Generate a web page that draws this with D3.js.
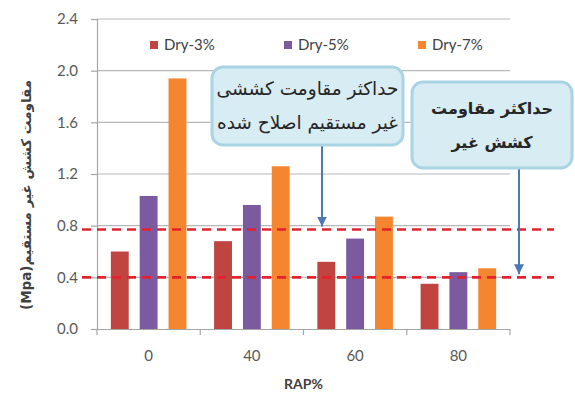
<!DOCTYPE html>
<html>
<head>
<meta charset="utf-8">
<script src="https://cdn.jsdelivr.net/npm/d3@7"></script>
<style>
  html, body { margin: 0; padding: 0; background: #fff; }
  svg { display: block; }
</style>
</head>
<body>
<svg id="chart" width="575" height="397"></svg>
<script>
// RAP content on the x axis, one bar per dry-mix series
const categories = ["0", "40", "60", "80"];
const seriesNames = ["Dry-3%", "Dry-5%", "Dry-7%"];
const dry3 = [0.60, 0.68, 0.52, 0.35];
const dry5 = [1.03, 0.96, 0.70, 0.44];
const dry7 = [1.94, 1.26, 0.87, 0.47];
const yTicks = [0, 0.4, 0.8, 1.2, 1.6, 2.0, 2.4];
// dashed reference levels: modified and plain maximum indirect tensile strength
const refLevels = [0.77, 0.40];
const calloutLines1 = ["حداکثر مقاومت کششی", "غیر مستقیم اصلاح شده"];
const calloutLines2 = ["حداکثر مقاومت", "کشش غیر"];
const xTitle = "RAP%";
const yTitle = "مقاومت کشش غیر مستقیم(Mpa)";

const seriesValues = [dry3, dry5, dry7];
const colors = ["#c0443f", "#7b5a9f", "#f5862f"];

const svg = d3.select("#chart");
const plotLeft = 97, plotRight = 510, plotTop = 19, plotBottom = 329;

const x = d3.scaleBand().domain(categories).range([plotLeft, plotRight]).padding(0);
const xs = d3.scaleBand().domain(seriesNames).range([0, x.bandwidth()])
  .paddingInner(0.38).paddingOuter(0.48);
const y = d3.scaleLinear().domain([0, 2.4]).range([plotBottom, plotTop]);

// horizontal gridlines
svg.append("g").selectAll("line").data(yTicks.filter(d => d > 0)).join("line")
  .attr("x1", plotLeft).attr("x2", plotRight)
  .attr("y1", d => y(d)).attr("y2", d => y(d))
  .attr("stroke", "#b8b8b8").attr("stroke-width", 1.2);

// y axis
const yAxis = svg.append("g").attr("transform", `translate(${plotLeft},0)`)
  .call(d3.axisLeft(y).tickValues(yTicks).tickFormat(d3.format(".1f")).tickSize(6).tickPadding(13));
yAxis.select(".domain").attr("stroke", "#a6a6a6").attr("stroke-width", 1.2);
yAxis.selectAll(".tick line").attr("stroke", "#a6a6a6").attr("stroke-width", 1.2);
yAxis.selectAll(".tick text").attr("fill", "#595959")
  .style("font-family", "Lato, 'Liberation Sans', sans-serif").style("font-size", "15px");

// bars
const groups = svg.append("g").selectAll("g").data(categories).join("g")
  .attr("transform", d => `translate(${x(d)},0)`);
groups.selectAll("rect")
  .data((c, i) => seriesNames.map((s, k) => ({ s, k, v: seriesValues[k][i] })))
  .join("rect")
  .attr("x", d => xs(d.s)).attr("width", xs.bandwidth())
  .attr("y", d => y(d.v)).attr("height", d => y(0) - y(d.v))
  .attr("fill", d => colors[d.k]);

// x axis
const xAxis = svg.append("g").attr("transform", `translate(0,${plotBottom})`)
  .call(d3.axisBottom(x).tickSize(0).tickPadding(21));
xAxis.select(".domain").attr("stroke", "#a6a6a6").attr("stroke-width", 1.2);
xAxis.selectAll(".tick text").attr("fill", "#595959")
  .style("font-family", "Lato, 'Liberation Sans', sans-serif").style("font-size", "15px");
// category boundary ticks
xAxis.append("g").selectAll("line").data(categories.map(c => x(c)).concat([plotRight]))
  .join("line")
  .attr("x1", d => d).attr("x2", d => d).attr("y1", 0).attr("y2", 6)
  .attr("stroke", "#a6a6a6").attr("stroke-width", 1.2);

// dashed reference lines
svg.append("g").selectAll("line").data(refLevels).join("line")
  .attr("x1", 82).attr("x2", 554)
  .attr("y1", d => y(d)).attr("y2", d => y(d))
  .attr("stroke", "#e3222d").attr("stroke-width", 2.6)
  .attr("stroke-dasharray", "9,6");

// legend
const legend = svg.append("g").attr("transform", "translate(150,45)");
const legendX = [0, 134, 268];
seriesNames.forEach((s, k) => {
  const g = legend.append("g").attr("transform", `translate(${legendX[k]},0)`);
  g.append("rect").attr("x", 0).attr("y", -4).attr("width", 8).attr("height", 8).attr("fill", colors[k]);
  g.append("text").attr("x", 14).attr("y", 0).attr("dy", "0.35em")
    .attr("fill", "#404040")
    .style("font-family", "Lato, 'Liberation Sans', sans-serif").style("font-size", "15px")
    .text(s);
});

// callouts with arrows down to the reference lines
const arrowColor = "#4a79b5";
svg.append("defs").append("marker")
  .attr("id", "arrowhead").attr("viewBox", "0 0 10 10")
  .attr("refX", 10).attr("refY", 5).attr("markerWidth", 5).attr("markerHeight", 5)
  .attr("markerUnits", "strokeWidth").attr("orient", "auto")
  .append("path").attr("d", "M0,0 L10,5 L0,10 z").attr("fill", arrowColor);

function callout(box, lines, lineGap, fontSize, weight, arrowX, level) {
  svg.append("line")
    .attr("x1", arrowX).attr("x2", arrowX)
    .attr("y1", box.y + box.h).attr("y2", y(level) - 3)
    .attr("stroke", arrowColor).attr("stroke-width", 2)
    .attr("marker-end", "url(#arrowhead)");
  svg.append("rect")
    .attr("x", box.x).attr("y", box.y).attr("width", box.w).attr("height", box.h)
    .attr("rx", 11).attr("ry", 11)
    .attr("fill", "#d8ecf3").attr("stroke", "#a9d4e4").attr("stroke-width", 3);
  const cx = box.x + box.w / 2;
  const cy = box.y + box.h / 2;
  lines.forEach((t, i) => {
    svg.append("text")
      .attr("x", cx).attr("y", cy + (i - (lines.length - 1) / 2) * lineGap)
      .attr("dy", "0.35em").attr("text-anchor", "middle")
      .attr("fill", "#262626")
      .style("font-family", "'DejaVu Sans', sans-serif")
      .style("font-size", fontSize + "px").style("font-weight", weight)
      .text(t);
  });
}
callout({ x: 212, y: 67, w: 191, h: 78 }, calloutLines1, 34, 18.5, "normal", 322, refLevels[0]);
callout({ x: 412, y: 82, w: 160, h: 86 }, calloutLines2, 34, 16, "bold", 519, refLevels[1]);

// axis titles
svg.append("text")
  .attr("x", (plotLeft + plotRight) / 2).attr("y", 389).attr("text-anchor", "middle")
  .attr("fill", "#404040")
  .style("font-family", "Lato, 'Liberation Sans', sans-serif").style("font-size", "14px")
  .style("font-weight", "bold")
  .text(xTitle);

svg.append("text")
  .attr("transform", "translate(31,195) rotate(-90)")
  .attr("text-anchor", "middle").attr("direction", "rtl")
  .attr("fill", "#404040")
  .style("font-family", "'DejaVu Sans', sans-serif").style("font-size", "13.5px")
  .style("font-weight", "bold")
  .text(yTitle);
</script>
</body>
</html>
